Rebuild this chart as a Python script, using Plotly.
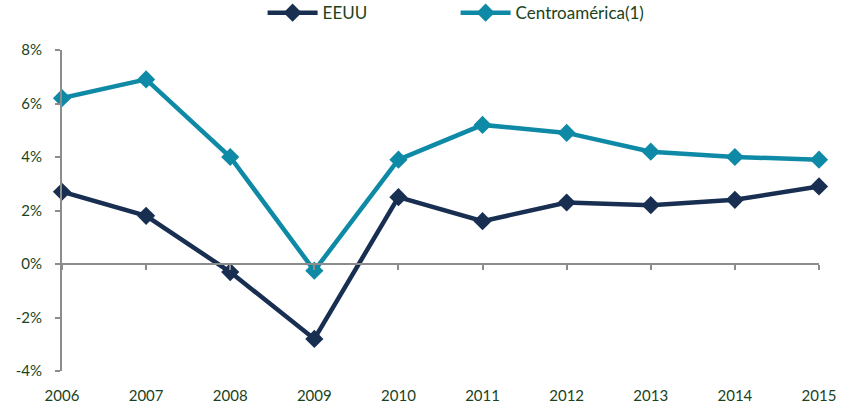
import plotly.graph_objects as go

years = [2006, 2007, 2008, 2009, 2010, 2011, 2012, 2013, 2014, 2015]
eeuu = [2.7, 1.8, -0.3, -2.8, 2.5, 1.6, 2.3, 2.2, 2.4, 2.9]
centro = [6.2, 6.9, 4.0, -0.25, 3.9, 5.2, 4.9, 4.2, 4.0, 3.9]
y_ticks = [-4, -2, 0, 2, 4, 6, 8]
y_tick_labels = ["-4%", "-2%", "0%", "2%", "4%", "6%", "8%"]

navy = "#182F52"
teal = "#0E8AA6"
txt = "#1A431C"
axis_grey = "#8C8C8C"
font_family = "Lato, Carlito, Calibri, sans-serif"

fig = go.Figure()
fig.add_trace(go.Scatter(
    x=years, y=eeuu, name="EEUU", mode="lines+markers",
    line=dict(color=navy, width=4.5),
    marker=dict(symbol="diamond", size=14, color=navy),
    cliponaxis=False, xaxis="x2",
))
fig.add_trace(go.Scatter(
    x=years, y=centro, name="Centroamérica(1)", mode="lines+markers",
    line=dict(color=teal, width=4.5),
    marker=dict(symbol="diamond", size=14, color=teal),
    cliponaxis=False,
))

fig.update_layout(
    width=854, height=407,
    margin=dict(l=62, r=35, t=50, b=36, autoexpand=False),
    paper_bgcolor="white", plot_bgcolor="white",
    font=dict(family=font_family, size=15, color=txt),
    showlegend=True,
    legend=dict(orientation="h", x=0.265, xanchor="left", y=1.115, yanchor="middle",
                font=dict(size=17, color=txt), itemwidth=50,
                entrywidth=128, entrywidthmode="pixels",
                traceorder="normal", bgcolor="rgba(0,0,0,0)"),
    xaxis=dict(
        range=[2006, 2015], tickvals=years, ticktext=[str(y) for y in years],
        showline=False, showgrid=False, zeroline=False, ticks="",
        ticklabelstandoff=14, automargin=False,
        tickfont=dict(size=15, color=txt, family=font_family),
    ),
    xaxis2=dict(
        matches="x", overlaying="x", anchor="free", position=1/3,
        range=[2006, 2015], tickvals=years,
        showline=True, linecolor=axis_grey, linewidth=2,
        ticks="outside", ticklen=5, tickwidth=2, tickcolor=axis_grey,
        showticklabels=False, showgrid=False, zeroline=False,
    ),
    yaxis=dict(
        range=[-4, 8], tickvals=y_ticks, ticktext=y_tick_labels,
        showline=True, linecolor=axis_grey, linewidth=2,
        ticks="outside", ticklen=5, tickwidth=2, tickcolor=axis_grey,
        showgrid=False, zeroline=False, automargin=False,
        ticklabelstandoff=10,
        tickfont=dict(size=15, color=txt, family=font_family),
    ),
)

fig.write_html("out.html", config={"displayModeBar": False},
               post_script="document.body.style.margin='0';document.body.style.padding='0';")
